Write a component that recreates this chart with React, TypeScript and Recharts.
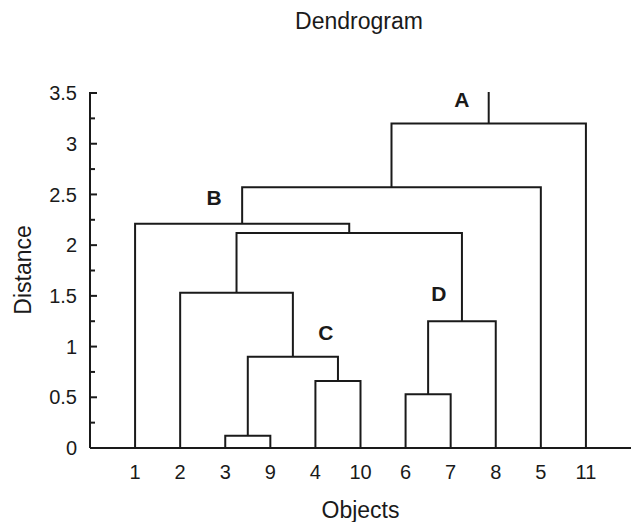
import { ComposedChart, Line, Scatter, XAxis, YAxis } from "recharts";

// leaf order along the x axis
const leafNames = ["1", "2", "3", "9", "4", "10", "6", "7", "8", "5", "11"];

// linkage: ids 0..10 are the leaves, every merge adds a new id from 11 on
const mergeLeft = [2, 4, 11, 1, 6, 15, 14, 0, 18, 19];
const mergeRight = [3, 5, 12, 13, 7, 8, 16, 17, 9, 10];
const mergeHeight = [0.12, 0.66, 0.9, 1.53, 0.53, 1.25, 2.12, 2.21, 2.57, 3.2];
const rootTop = 3.51;

const xTicks = [1, 2, 3, 4, 5, 6, 7, 8, 9, 10, 11];
const yTicks = [0, 0.25, 0.5, 0.75, 1, 1.25, 1.5, 1.75, 2, 2.25, 2.5, 2.75, 3, 3.25, 3.5];

// cluster letters (data units)
const clusterNames = ["A", "B", "C", "D"];
const clusterX = [8.25, 2.75, 5.23, 7.74];
const clusterY = [3.44, 2.47, 1.14, 1.52];

const INK = "#1a1a1a";
const FONT = "'Liberation Sans', Arial, sans-serif";

// build the U shaped links from the linkage
const nodeX: number[] = leafNames.map((_, i) => i + 1);
const nodeH: number[] = leafNames.map(() => 0);
const links: { x: number; y: number }[][] = [];
mergeLeft.forEach((l, k) => {
  const r = mergeRight[k];
  const h = mergeHeight[k];
  links.push([
    { x: nodeX[l], y: nodeH[l] },
    { x: nodeX[l], y: h },
    { x: nodeX[r], y: h },
    { x: nodeX[r], y: nodeH[r] },
  ]);
  nodeX.push((nodeX[l] + nodeX[r]) / 2);
  nodeH.push(h);
});
const root = nodeX.length - 1;
links.push([
  { x: nodeX[root], y: nodeH[root] },
  { x: nodeX[root], y: rootTop },
]);

const clusters = clusterNames.map((name, i) => ({ name, x: clusterX[i], y: clusterY[i] }));

function YTick({ x, y, payload }: any) {
  const v = payload.value;
  const major = Math.abs(v * 2 - Math.round(v * 2)) < 1e-6;
  return (
    <g>
      <line x1={x} x2={x + (major ? 7 : 5)} y1={y} y2={y} stroke={INK} strokeWidth={2} />
      {major && (
        <text x={x - 13} y={y} dy="0.36em" textAnchor="end" fontSize={20} fill={INK} fontFamily={FONT}>
          {String(v)}
        </text>
      )}
    </g>
  );
}

function ClusterLabel({ cx, cy, payload }: any) {
  return (
    <text
      x={cx}
      y={cy}
      dy="0.36em"
      textAnchor="middle"
      fontSize={21}
      fontWeight="bold"
      fill={INK}
      fontFamily={FONT}
    >
      {payload.name}
    </text>
  );
}

function DistanceLabel({ viewBox }: any) {
  const cx = viewBox.x + 23;
  const cy = viewBox.y + viewBox.height / 2;
  return (
    <text
      x={cx}
      y={cy}
      dy="0.36em"
      textAnchor="middle"
      fontSize={23}
      fill={INK}
      fontFamily={FONT}
      transform={`rotate(-90, ${cx}, ${cy})`}
    >
      Distance
    </text>
  );
}

export default function App() {
  return (
    <div
      style={{
        position: "absolute",
        left: 0,
        top: 0,
        width: 631,
        height: 522,
        background: "#fff",
        fontFamily: FONT,
      }}
    >
      <div
        style={{
          position: "absolute",
          left: 0,
          width: 718,
          top: 8,
          textAlign: "center",
          fontSize: 23,
          color: INK,
        }}
      >
        Dendrogram
      </div>
      <ComposedChart width={631} height={522} margin={{ top: 92, right: 0, bottom: 0, left: 0 }}>
        <XAxis
          type="number"
          dataKey="x"
          domain={[0, 12]}
          ticks={xTicks}
          interval={0}
          tickFormatter={(v: number) => leafNames[v - 1] ?? ""}
          tickLine={false}
          tickSize={0}
          tickMargin={17}
          height={74}
          axisLine={{ stroke: INK, strokeWidth: 2 }}
          tick={{ fill: INK, fontSize: 20, fontFamily: FONT }}
          label={{ value: "Objects", position: "insideBottom", offset: 4, fill: INK, fontSize: 23, fontFamily: FONT }}
        />
        <YAxis
          type="number"
          domain={[0, 3.5]}
          ticks={yTicks}
          interval={0}
          width={90}
          tickLine={false}
          tickSize={0}
          tickMargin={0}
          axisLine={{ stroke: INK, strokeWidth: 2 }}
          tick={<YTick />}
          label={<DistanceLabel />}
        />
        {links.map((pts, i) => (
          <Line
            key={i}
            data={pts}
            dataKey="y"
            type="linear"
            stroke={INK}
            strokeWidth={2}
            dot={false}
            activeDot={false}
            legendType="none"
            isAnimationActive={false}
          />
        ))}
        <Scatter data={clusters} dataKey="y" shape={<ClusterLabel />} isAnimationActive={false} />
      </ComposedChart>
    </div>
  );
}
